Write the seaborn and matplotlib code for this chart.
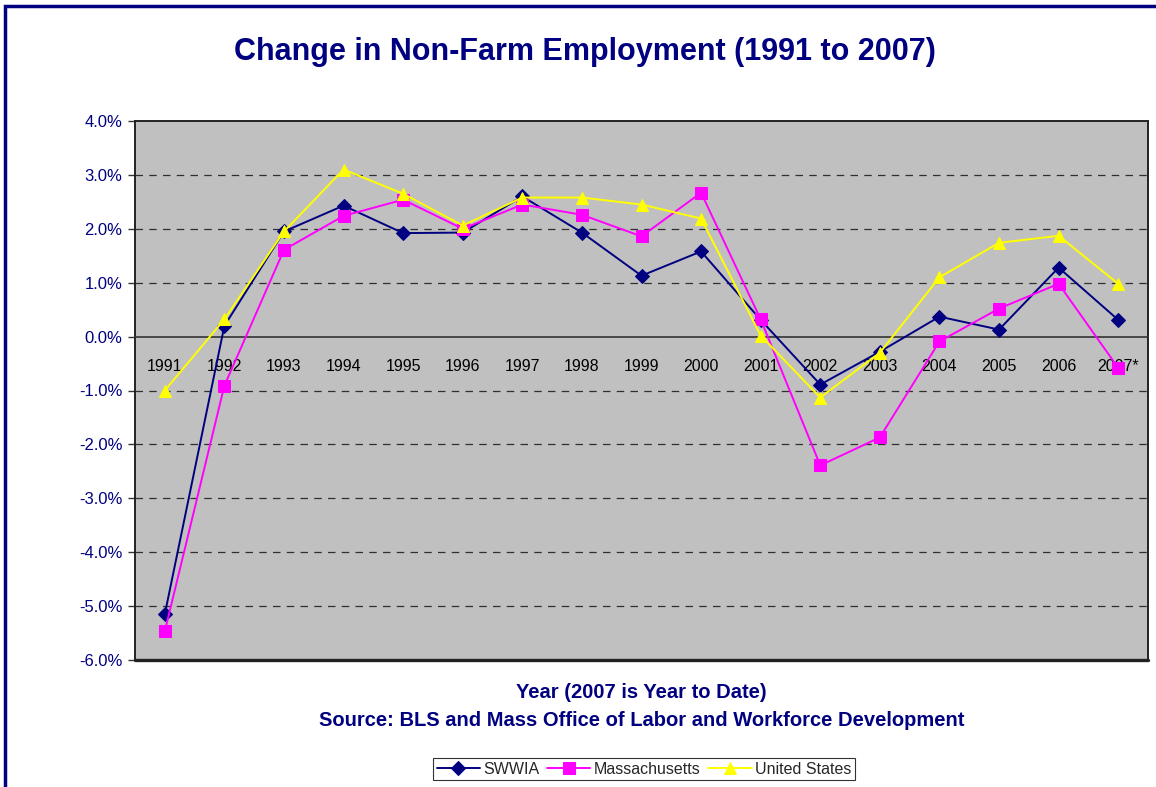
import matplotlib
matplotlib.use("Agg")
import matplotlib.pyplot as plt
import matplotlib.patches as mpatches
import seaborn as sns
import pandas as pd

years = ["1991", "1992", "1993", "1994", "1995", "1996", "1997", "1998", "1999",
         "2000", "2001", "2002", "2003", "2004", "2005", "2006", "2007*"]
swwia = [-5.15, 0.20, 1.95, 2.43, 1.92, 1.93, 2.60, 1.93, 1.13,
         1.58, 0.31, -0.89, -0.28, 0.37, 0.13, 1.28, 0.31]
massachusetts = [-5.47, -0.91, 1.61, 2.24, 2.54, 2.00, 2.45, 2.26, 1.86,
                 2.67, 0.32, -2.39, -1.87, -0.09, 0.52, 0.98, -0.58]
united_states = [-1.00, 0.32, 1.95, 3.10, 2.65, 2.06, 2.58, 2.58, 2.45,
                 2.19, 0.02, -1.13, -0.30, 1.10, 1.74, 1.87, 0.98]

NAVY = "#000080"

sns.set_style("white")
plt.rcParams['font.family'] = ['Liberation Sans', 'DejaVu Sans']

fig = plt.figure(figsize=(11.56, 7.87), dpi=100)
ax = fig.add_axes([135 / 1156, 1 - 660 / 787, (1148 - 135) / 1156, (660 - 121) / 787])
ax.set_facecolor("#c0c0c0")

pos = list(range(len(years)))
series = [
    ("SWWIA", swwia, NAVY, "D", 7),
    ("Massachusetts", massachusetts, "#ff00ff", "s", 8),
    ("United States", united_states, "#ffff00", "^", 9),
]
for name, vals, col, mk, ms in series:
    df = pd.DataFrame({"pos": pos, "val": vals})
    sns.lineplot(data=df, x="pos", y="val", ax=ax, color=col, marker=mk,
                 markersize=ms, markeredgecolor=col, linewidth=1.4,
                 label=name, zorder=3)

ax.set_xlim(-0.5, len(years) - 0.5)
ax.set_ylim(-6, 4)
ax.set_yticks(range(-6, 5))
ax.set_yticklabels([f"{v:.1f}%" for v in range(-6, 5)], color=NAVY, fontsize=12)
for v in range(-5, 4):
    if v != 0:
        ax.axhline(v, color="#303030", linestyle=(0, (6, 5)), linewidth=0.9, zorder=1)
ax.axhline(-6, color="#222222", linewidth=2.4, clip_on=False, zorder=4)

# category axis crosses at zero
ax.spines["bottom"].set_position(("data", 0))
ax.spines["bottom"].set_color("#333333")
ax.spines["bottom"].set_linewidth(1.2)
for s in ["left", "right", "top"]:
    ax.spines[s].set_color("#222222")
    ax.spines[s].set_linewidth(1.4)
ax.set_xticks(pos)
ax.set_xticklabels(years, fontsize=11.5, color="black")
ax.set_xticks([p + 0.5 for p in pos[:-1]], minor=True)
ax.tick_params(axis="x", which="major", length=0, pad=16)
ax.tick_params(axis="x", which="minor", length=5, width=1, color="#333333", direction="out")
ax.tick_params(axis="y", length=5, width=1, color="#333333", direction="out", left=True, pad=4)
ax.set_ylabel("")
ax.set_xlabel("Year (2007 is Year to Date)\nSource: BLS and Mass Office of Labor and Workforce Development",
              fontsize=14.5, fontweight="bold", color=NAVY, linespacing=1.6)
ax.xaxis.set_label_coords(0.5, -0.043, transform=ax.transAxes)
ax.xaxis.label.set_va("top")

fig.suptitle("Change in Non-Farm Employment (1991 to 2007)", x=585 / 1156, y=1 - 52 / 787,
             va="center", fontsize=22, fontweight="bold", color=NAVY)

leg = ax.legend(loc="center", bbox_to_anchor=(644 / 1156, 1 - 769 / 787),
                bbox_transform=fig.transFigure, ncol=3, frameon=True, fancybox=False,
                fontsize=11.5, handlelength=2.7, handletextpad=0.2, columnspacing=0.5,
                borderpad=0.25, edgecolor="black")
leg.get_frame().set_linewidth(0.8)

border = mpatches.Rectangle((5 / 1156, -0.05), 1.1, 1 - 6 / 787 + 0.05, transform=fig.transFigure,
                            fill=False, edgecolor=NAVY, linewidth=2.5, clip_on=False)
fig.patches.append(border)

fig.savefig("out.png", dpi=100)
